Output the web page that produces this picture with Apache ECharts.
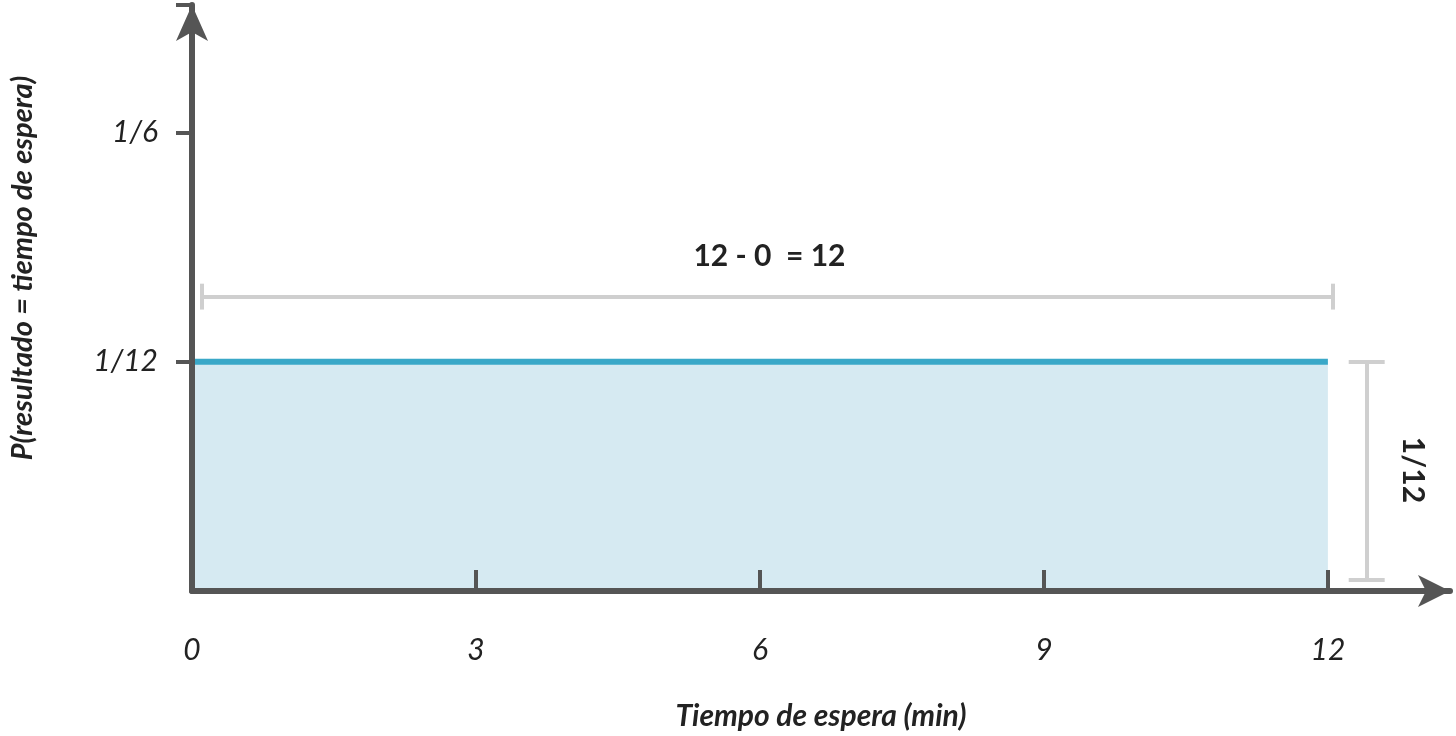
<!DOCTYPE html>
<html><head><meta charset="utf-8">
<script src="https://cdn.jsdelivr.net/npm/echarts@6/dist/echarts.min.js"></script>
<style>html,body{margin:0;padding:0;background:#fff}#c{width:1456px;height:736px}</style>
</head><body><div id="c"></div>
<script>
const xTicks = [0, 3, 6, 9, 12];
const yTicks = [1/12, 1/6];
const yTickLabels = ['1/12', '1/6'];
const densityX = [0, 12];
const densityY = [1/12, 1/12];
const widthLabel = '12 - 0  = 12';
const heightLabel = '1/12';

const chart = echarts.init(document.getElementById('c'));
const gray = '#cfcfcf';
const bracketY = 0.107, capH = 0.0047;
const hx0 = 0.105, hx1 = 12.05;
const vx = 12.41, capW = 0.19, vy0 = 0.004, vy1 = 1/12;
function seg(a, b) { return [{coord: a}, {coord: b}]; }
chart.setOption({
  animation: false,
  grid: {left: 188, right: 6, top: 5, bottom: 138},
  xAxis: {
    type: 'value', min: 0, max: 13.29, interval: 3, z: 10,
    axisLine: {lineStyle: {color: '#555', width: 6}, symbol: ['none', 'arrow'], symbolSize: [24, 32]},
    axisTick: {show: true, length: 21, inside: true, lineStyle: {color: '#555', width: 4}},
    splitLine: {show: false},
    axisLabel: {showMaxLabel: false, fontFamily: 'Lato', fontStyle: 'italic', fontSize: 30, color: '#222', margin: 44,
      formatter: v => xTicks.includes(v) ? String(v) : ''},
    name: 'Tiempo de espera (min)', nameLocation: 'middle', nameGap: 110,
    nameTextStyle: {fontFamily: 'Lato', fontStyle: 'italic', fontWeight: 'bold', fontSize: 30, color: '#222'}
  },
  yAxis: {
    type: 'value', min: 0, max: 0.213, interval: 1/12, z: 10,
    axisLine: {lineStyle: {color: '#555', width: 6}, symbol: ['none', 'arrow'], symbolSize: [24, 36]},
    axisTick: {show: true, length: 16, lineStyle: {color: '#555', width: 4}},
    splitLine: {show: false},
    axisLabel: {showMinLabel: false, fontFamily: 'Lato', fontStyle: 'italic', fontSize: 30, color: '#222', margin: 34,
      formatter: v => { const i = yTicks.findIndex(t => Math.abs(t - v) < 1e-6); return i >= 0 ? yTickLabels[i] : ''; }},
    name: 'P(resultado = tiempo de espera)', nameLocation: 'middle', nameGap: 155, nameRotate: 90,
    nameTextStyle: {fontFamily: 'Lato', fontStyle: 'italic', fontWeight: 'bold', fontSize: 29, color: '#222', padding: [0, 0, 0, 60]}
  },
  series: [{
    type: 'line', symbol: 'none',
    data: densityX.map((x, i) => [x, densityY[i]]),
    lineStyle: {color: '#3aa8c8', width: 6},
    areaStyle: {color: '#d6eaf2', opacity: 1},
    z: 1,
    markLine: {
      silent: true, symbol: ['none', 'none'],
      lineStyle: {color: gray, width: 4, type: 'solid'},
      label: {show: false},
      data: [
        seg([hx0, bracketY], [hx1, bracketY]),
        seg([hx0, bracketY - capH], [hx0, bracketY + capH]),
        seg([hx1, bracketY - capH], [hx1, bracketY + capH]),
        seg([vx, vy0], [vx, vy1]),
        seg([vx - capW, vy0], [vx + capW, vy0]),
        seg([vx - capW, vy1], [vx + capW, vy1])
      ]
    },
    markPoint: {
      silent: true, symbol: 'circle', symbolSize: 0,
      data: [
        {coord: [6.1, 0.1215], label: {show: true, formatter: widthLabel, fontFamily: 'Lato', fontWeight: 'bold', fontSize: 30, color: '#222'}},
        {coord: [12.9, 0.044], label: {show: true, formatter: heightLabel, rotate: -90, fontFamily: 'Lato', fontWeight: 'bold', fontSize: 30, color: '#222'}}
      ]
    }
  }]
});
</script></body></html>
